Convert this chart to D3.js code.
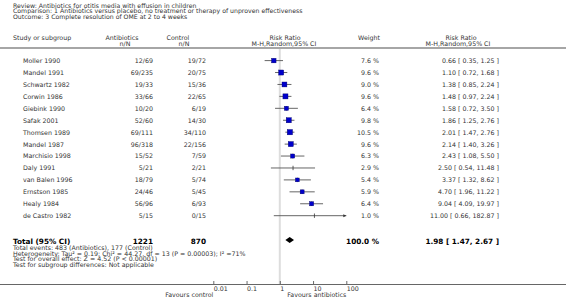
<!DOCTYPE html>
<html>
<head>
<meta charset="utf-8">
<script src="https://cdn.jsdelivr.net/npm/d3@7"></script>
<style>
  body { margin: 0; background: #fff; }
  svg text { font-family: "DejaVu Sans", Verdana, sans-serif; fill: #333; }
</style>
</head>
<body>
<div id="chart"></div>
<script>
// chart data
const studies = ["Moller 1990", "Mandel 1991", "Schwartz 1982", "Corwin 1986", "Giebink 1990",
    "Safak 2001", "Thomsen 1989", "Mandel 1987", "Marchisio 1998", "Daly 1991",
    "van Balen 1996", "Ernstson 1985", "Healy 1984", "de Castro 1982"];
const antibiotics = ["12/69", "69/235", "19/33", "33/66", "10/20", "52/60", "69/111", "96/318",
    "15/52", "5/21", "18/79", "24/46", "56/96", "5/15"];
const control = ["19/72", "20/75", "15/36", "22/65", "6/19", "14/30", "34/110", "22/156",
    "7/59", "2/21", "5/74", "5/45", "6/93", "0/15"];
const weights = [7.6, 9.6, 9.0, 9.6, 6.4, 9.8, 10.5, 9.6, 6.3, 2.9, 5.4, 5.9, 6.4, 1.0];
const rr = [0.66, 1.10, 1.38, 1.48, 1.58, 1.86, 2.01, 2.14, 2.43, 2.50, 3.37, 4.70, 9.04, 11.00];
const lower = [0.35, 0.72, 0.85, 0.97, 0.72, 1.25, 1.47, 1.40, 1.08, 0.54, 1.32, 1.96, 4.09, 0.66];
const upper = [1.25, 1.68, 2.24, 2.24, 3.50, 2.76, 2.76, 3.26, 5.50, 11.48, 8.62, 11.22, 19.97, 182.87];
const total = {rr: 1.98, lower: 1.47, upper: 2.67, n1: 1221, n2: 870};
const ticks = [0.01, 0.1, 1, 10, 100];

const headerLines = [
    "Review:  Antibiotics for otitis media with effusion in children",
    "Comparison:  1 Antibiotics versus placebo, no treatment or therapy of unproven effectiveness",
    "Outcome:  3 Complete resolution of OME at 2 to 4 weeks"
];
const footLines = [
    "Total events: 483 (Antibiotics), 177 (Control)",
    "Heterogeneity: Tau\u00b2 = 0.19; Chi\u00b2 = 44.27, df = 13 (P = 0.00003); I\u00b2 =71%",
    "Test for overall effect: Z = 4.52 (P < 0.00001)",
    "Test for subgroup differences: Not applicable"
];

const width = 566, height = 301;
const fs = 6.3;       // body text
const fsBold = 7.3;   // total row

const svg = d3.select("#chart").append("svg")
    .attr("width", width)
    .attr("height", height);

const x = d3.scaleLog().domain([0.01, 100]).range([213.3, 346.3]);
const rowY = d3.scaleLinear().domain([0, 1]).range([63, 74.93]);

const fmt = d3.format(".2f");
const ciText = (m, l, u) => fmt(m) + " [ " + fmt(l) + ", " + fmt(u) + " ]";

// title block
svg.selectAll(".head")
    .data(headerLines)
    .enter()
    .append("text")
    .attr("class", "head")
    .attr("x", 13)
    .attr("y", (d, i) => 7.6 + i * 5.6)
    .attr("font-size", 6.2)
    .text(d => d);

function label(t, xx, yy, anchor, opts) {
    const el = svg.append("text")
        .attr("x", xx)
        .attr("y", yy)
        .attr("font-size", (opts && opts.size) || fs)
        .attr("text-anchor", anchor || "start")
        .text(t);
    if (opts && opts.bold) el.attr("font-weight", "bold").style("fill", "#000");
    return el;
}

// column headers
label("Study or subgroup", 13, 40);
label("Antibiotics", 122, 40, "middle");
label("n/N", 125, 46, "middle");
label("Control", 178, 40, "middle");
label("n/N", 184, 46, "middle");
label("Risk Ratio", 285, 40, "middle");
label("M-H,Random,95% CI", 284, 46, "middle");
label("Weight", 369, 40, "middle");
label("Risk Ratio", 461, 40, "middle");
label("M-H,Random,95% CI", 458, 46, "middle");

// separator under the header
svg.append("line")
    .attr("x1", 0).attr("x2", width)
    .attr("y1", 48).attr("y2", 48)
    .attr("stroke", "#888").attr("stroke-width", 1.6);

// line of no effect
svg.append("line")
    .attr("x1", x(1)).attr("x2", x(1))
    .attr("y1", 49).attr("y2", 284)
    .attr("stroke", "#ddd").attr("stroke-width", 2);

// study rows
const rows = svg.selectAll(".row")
    .data(studies)
    .enter()
    .append("g")
    .attr("class", "row")
    .attr("transform", (d, i) => "translate(0," + rowY(i) + ")");

rows.append("text").attr("x", 23).attr("font-size", fs).text(d => d);
rows.append("text").attr("x", 153).attr("text-anchor", "end").attr("font-size", fs)
    .text((d, i) => antibiotics[i]);
rows.append("text").attr("x", 206).attr("text-anchor", "end").attr("font-size", fs)
    .text((d, i) => control[i]);
rows.append("text").attr("x", 379).attr("text-anchor", "end").attr("font-size", fs)
    .text((d, i) => fmt(weights[i]).slice(0, -1) + " %");
rows.append("text").attr("x", 499).attr("text-anchor", "end").attr("font-size", fs)
    .text((d, i) => ciText(rr[i], lower[i], upper[i]));

// confidence intervals
const maxX = x.domain()[1];
rows.append("line")
    .attr("x1", (d, i) => x(lower[i]))
    .attr("x2", (d, i) => x(Math.min(upper[i], maxX)))
    .attr("y1", -2.4).attr("y2", -2.4)
    .attr("stroke", "#555").attr("stroke-width", 0.9);

// arrow for CIs past the axis
rows.filter((d, i) => upper[i] > maxX)
    .append("path")
    .attr("d", "M" + x(maxX) + "," + (-2.4) + "l-3,-1.5l0,3z")
    .attr("fill", "#333");

rows.append("line")
    .attr("x1", (d, i) => x(rr[i])).attr("x2", (d, i) => x(rr[i]))
    .attr("y1", -4.6).attr("y2", -0.2)
    .attr("stroke", "#333").attr("stroke-width", 0.8);

const side = w => 5.3 * Math.sqrt(w / 10.5);
rows.filter((d, i) => weights[i] > 3)
    .append("rect")
    .attr("x", function (d) { const i = studies.indexOf(d); return x(rr[i]) - side(weights[i]) / 2; })
    .attr("y", function (d) { const i = studies.indexOf(d); return -2.4 - side(weights[i]) / 2; })
    .attr("width", function (d) { return side(weights[studies.indexOf(d)]); })
    .attr("height", function (d) { return side(weights[studies.indexOf(d)]); })
    .attr("fill", "#0000cc")
    .attr("stroke", "#000066")
    .attr("stroke-width", 0.4);

// total row
const ty = 243.5;
label("Total (95% CI)", 13, ty, "start", {bold: true, size: fsBold});
label(total.n1, 153, ty, "end", {bold: true, size: fsBold});
label(total.n2, 206, ty, "end", {bold: true, size: fsBold});
label("100.0 %", 379, ty, "end", {bold: true, size: fsBold});
label(ciText(total.rr, total.lower, total.upper), 499, ty, "end", {bold: true, size: fsBold});

const dy = ty - 3.4;
svg.append("path")
    .attr("d", "M" + x(total.lower) + "," + dy +
        "L" + x(total.rr) + "," + (dy - 3) +
        "L" + x(total.upper) + "," + dy +
        "L" + x(total.rr) + "," + (dy + 3) + "Z")
    .attr("fill", "#000");

svg.selectAll(".foot")
    .data(footLines)
    .enter()
    .append("text")
    .attr("class", "foot")
    .attr("x", 13)
    .attr("y", (d, i) => 250 + i * 5.7)
    .attr("font-size", fs)
    .text(d => d);

// axis
svg.append("line")
    .attr("x1", 0).attr("x2", width)
    .attr("y1", 284.5).attr("y2", 284.5)
    .attr("stroke", "#666").attr("stroke-width", 1.1);

const axis = d3.axisTop(x)
    .tickValues(ticks)
    .tickSize(3)
    .tickFormat(d => String(d));

const gAxis = svg.append("g")
    .attr("transform", "translate(0,284)")
    .call(axis);
gAxis.select(".domain").remove();
gAxis.selectAll(".tick line").attr("stroke", "#444").attr("stroke-width", 0.8);
gAxis.selectAll(".tick text")
    .attr("y", 6.5)
    .attr("dy", null)
    .attr("text-anchor", "start")
    .attr("font-size", fs)
    .attr("font-family", "DejaVu Sans, sans-serif")
    .style("fill", "#333");

label("Favours control", x(0.01), 296.5, "end");
label("Favours antibiotics", x(100), 296.5, "end");
</script>
</body>
</html>
